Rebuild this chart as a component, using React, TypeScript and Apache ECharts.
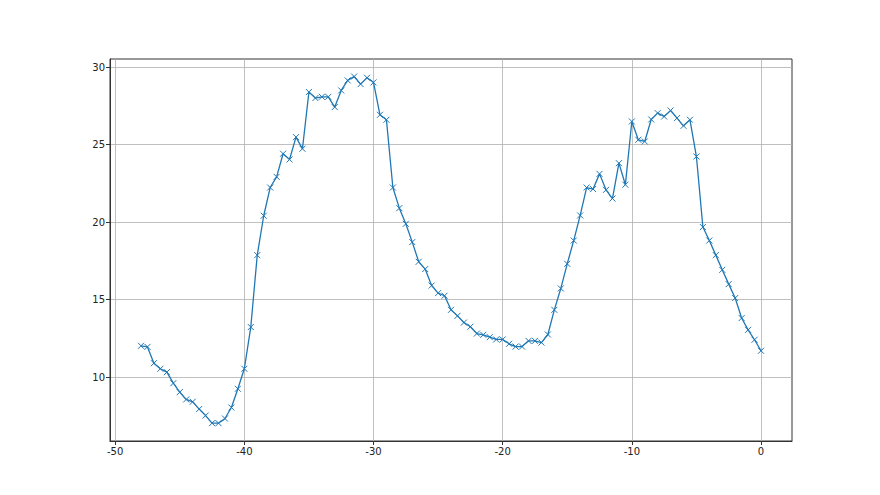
import React, { useEffect, useRef } from "react";
import * as echarts from "echarts";

const xValues: number[] = [];
for (let i = 0; i <= 96; i++) xValues.push(-48 + i * 0.5);

const yValues = [
  12.02, 11.95, 10.9, 10.54, 10.32, 9.61, 9.03, 8.56, 8.41, 7.94,
  7.52, 7.03, 7.03, 7.33, 8.04, 9.25, 10.54, 13.23, 17.87, 20.41,
  22.23, 22.92, 24.41, 24.04, 25.48, 24.73, 28.39, 28.0, 28.08, 28.08,
  27.42, 28.49, 29.14, 29.39, 28.9, 29.31, 29.01, 26.92, 26.6, 22.23,
  20.9, 19.89, 18.71, 17.44, 16.97, 15.91, 15.42, 15.25, 14.34, 13.95,
  13.52, 13.25, 12.81, 12.73, 12.58, 12.43, 12.43, 12.15, 11.97, 11.97,
  12.34, 12.34, 12.23, 12.75, 14.34, 15.72, 17.31, 18.81, 20.43, 22.23,
  22.13, 23.11, 22.08, 21.52, 23.8, 22.41, 26.49, 25.31, 25.2, 26.62,
  27.03, 26.81, 27.2, 26.71, 26.21, 26.6, 24.23, 19.68, 18.81, 17.87,
  16.92, 16.0, 15.1, 13.81, 13.05, 12.41, 11.7,
];

const xTicks = [-50, -40, -30, -20, -10, 0];
const yTicks = [10, 15, 20, 25, 30];

export default function App() {
  const ref = useRef<HTMLDivElement>(null);
  useEffect(() => {
    if (!ref.current) return;
    const chart = echarts.init(ref.current, undefined, { renderer: "svg" });
    const data = xValues.map((x, i) => [x, yValues[i]]);
    const axisCommon = {
      axisLine: { show: true, onZero: false, lineStyle: { color: "#333", width: 1 } },
      axisTick: { show: true, inside: false, length: 4, lineStyle: { color: "#333", width: 1 } },
      axisLabel: { color: "#222", fontSize: 10, fontFamily: "DejaVu Sans", margin: 5 },
      splitLine: { show: true, lineStyle: { color: "#b0b0b0", width: 0.8 } },
    };
    chart.setOption({
      animation: false,
      backgroundColor: "#fff",
      grid: {
        left: 110,
        right: 88,
        top: 59,
        bottom: 54,
        show: true,
        borderColor: "#333",
        borderWidth: 1,
        containLabel: false,
      },
      xAxis: {
        type: "value",
        min: -50.4,
        max: 2.4,
        ...axisCommon,
        axisTick: { ...axisCommon.axisTick, customValues: xTicks },
        axisLabel: { ...axisCommon.axisLabel, customValues: xTicks },
      },
      yAxis: {
        type: "value",
        min: 5.88,
        max: 30.52,
        ...axisCommon,
        axisTick: { ...axisCommon.axisTick, customValues: yTicks },
        axisLabel: { ...axisCommon.axisLabel, customValues: yTicks },
      },
      series: [
        {
          type: "line",
          data,
          showAllSymbol: true,
          symbol: "path://M0,0L10,10M10,0L0,10",
          symbolSize: 6,
          itemStyle: { color: "#1f77b4", borderColor: "#1f77b4", borderWidth: 1 },
          lineStyle: { color: "#1f77b4", width: 1.3 },
          emphasis: { disabled: true },
        },
      ],
    });
    return () => chart.dispose();
  }, []);
  return (
    <div
      ref={ref}
      style={{ position: "fixed", left: 0, top: 0, width: 880, height: 495 }}
    />
  );
}
